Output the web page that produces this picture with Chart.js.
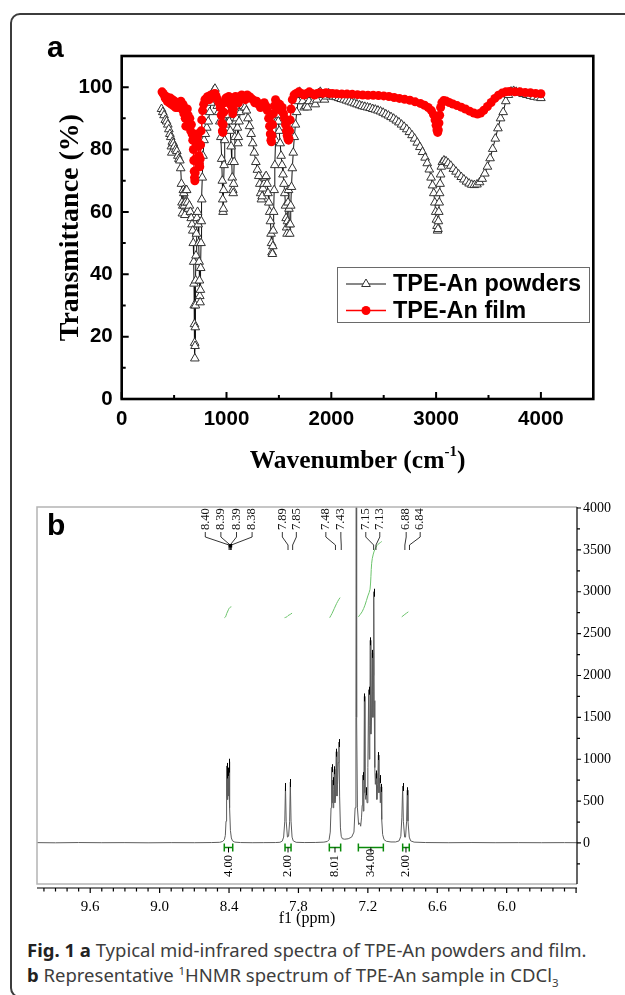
<!DOCTYPE html>
<html>
<head>
<meta charset="utf-8">
<script src="https://cdn.jsdelivr.net/npm/chart.js@4.4.1/dist/chart.umd.min.js"></script>
<style>
  html, body { margin: 0; padding: 0; background: #fff; }
  body { position: relative; width: 625px; height: 995px; overflow: hidden; }
  #frame { position: absolute; left: 10px; top: 13px; width: 690px; height: 985px; border: 2px solid #3c3c3c; border-radius: 10px; box-sizing: border-box; }
  canvas { position: absolute; left: 0; }
  #ir { top: 0; }
  #nmr { top: 490px; }
  #caption { position: absolute; left: 27px; top: 937px; font-family: "Noto Sans", sans-serif; font-size: 18.5px; line-height: 25px; color: #3d3d3d; white-space: nowrap; }
  #caption b { color: #222; }
  #caption sup, #caption sub { font-size: 0.62em; line-height: 0; }
</style>
</head>
<body>
<div id="frame"></div>
<canvas id="ir" width="625" height="480"></canvas>
<canvas id="nmr" width="625" height="440"></canvas>
<div id="caption"><b>Fig. 1</b> <b>a</b> Typical mid-infrared spectra of TPE-An powders and film.<br><b>b</b> Representative <sup>1</sup>HNMR spectrum of TPE-An sample in CDCl<sub>3</sub></div>
<script>
// ---- panel a: IR spectra ----
const irXTicks = [0, 1000, 2000, 3000, 4000];
const irYTicks = [0, 20, 40, 60, 80, 100];

const powderWn = [
  380, 392, 404, 416, 428, 440, 450, 460, 468, 474,
  478, 483, 492, 503, 515, 526, 536, 546, 555, 563,
  570, 575, 579, 583, 588, 593, 598, 602, 607, 613,
  620, 628, 637, 646, 655, 663, 671, 678, 683, 687,
  690, 692, 694, 696, 698, 700, 702, 704, 706, 709,
  713, 718, 724, 730, 735, 739, 742, 745, 748, 751,
  754, 757, 760, 764, 769, 776, 786, 798, 812, 826,
  840, 853, 866, 879, 890, 900, 912, 924, 936, 946,
  954, 960, 964, 967, 970, 973, 977, 983, 991, 1002,
  1014, 1026, 1036, 1044, 1050, 1055, 1060, 1064, 1068, 1073,
  1080, 1088, 1097, 1104, 1109, 1113, 1120, 1132, 1146, 1160,
  1175, 1190, 1205, 1220, 1235, 1250, 1265, 1280, 1295, 1308,
  1318, 1326, 1333, 1340, 1348, 1358, 1368, 1378, 1387, 1396,
  1404, 1412, 1419, 1425, 1430, 1434, 1438, 1442, 1446, 1450,
  1455, 1461, 1468, 1476, 1485, 1494, 1503, 1512, 1521, 1530,
  1539, 1548, 1556, 1563, 1569, 1574, 1578, 1582, 1587, 1592,
  1596, 1600, 1604, 1608, 1613, 1620, 1628, 1637, 1647, 1658,
  1670, 1683, 1697, 1712, 1727, 1742, 1757, 1772, 1787, 1802,
  1817, 1832, 1847, 1862, 1877, 1895, 1915, 1935, 1955, 1975,
  1995, 2020, 2045, 2070, 2095, 2120, 2145, 2170, 2195, 2220,
  2245, 2270, 2295, 2320, 2345, 2370, 2395, 2420, 2445, 2470,
  2495, 2520, 2545, 2570, 2595, 2620, 2645, 2670, 2695, 2720,
  2745, 2770, 2795, 2820, 2845, 2870, 2895, 2915, 2935, 2952,
  2966, 2978, 2988, 2996, 3003, 3009, 3014, 3018, 3022, 3026,
  3030, 3034, 3038, 3043, 3050, 3060, 3075, 3095, 3115, 3140,
  3165, 3190, 3215, 3240, 3265, 3290, 3315, 3340, 3365, 3390,
  3415, 3440, 3465, 3490, 3515, 3540, 3565, 3590, 3615, 3640,
  3665, 3690, 3715, 3740, 3765, 3795, 3830, 3865, 3900, 3935,
  3970, 4000
];
const powderT = [
  93, 92, 91, 89.5, 89, 88, 86.5, 85, 84, 81,
  79, 82.5, 82, 81, 80, 79.5, 78, 77, 76.5, 74,
  69, 63, 59.5, 62, 67, 66, 62, 59, 63, 67,
  67, 63, 61, 62, 60, 58, 56, 54, 50, 44,
  37, 30, 24, 18, 13, 17, 23, 30, 38, 46,
  53, 58, 60, 56, 50, 44, 38, 33, 31, 35,
  42, 50, 57, 64, 71, 78, 83, 85, 87, 89,
  92, 95, 97.5, 99, 99.5, 97, 94, 92, 89, 84,
  77, 70, 64, 60, 61, 67, 75, 83, 88, 91,
  91, 89, 86, 81, 76, 71, 67, 66, 69, 76,
  84, 89, 90, 87, 82, 84, 89, 92, 93.5, 94,
  93.5, 92.5, 90, 87.5, 85, 82, 79, 76, 73.5, 71.5,
  69, 66, 64, 65, 67.5, 69, 71, 71.5, 69, 66,
  63, 60, 57, 53, 50, 47, 46.5, 49, 54, 60,
  67, 75, 83, 89, 91, 89, 86, 82, 78, 75,
  72, 69, 66, 62, 58, 55, 53, 57, 63, 67,
  61, 56, 53, 56, 62, 68, 74, 79, 84, 88,
  92, 95.5, 98.5, 97.5, 95.5, 93.5, 94, 93.5, 95.5, 98,
  97.5, 95.5, 94.5, 96, 98, 98.5, 97.5, 96, 97, 98,
  97.5, 97, 96.8, 96.5, 96.2, 96, 95.7, 95.4, 95.1, 94.8,
  94.5, 94.2, 93.9, 93.7, 93.5, 93.3, 93, 92.8, 92.5, 92.2,
  91.8, 91.3, 90.9, 90.4, 89.9, 89.3, 88.7, 88, 87.3, 86.5,
  85.6, 84.6, 83.5, 82.2, 80.8, 79.2, 77.4, 75.6, 73.6, 71,
  68.5, 66, 63, 60, 57.5, 55.5, 54, 54.5, 57, 60,
  63, 66, 69, 72, 74.5, 76, 76.5, 76.2, 75.6, 74.8,
  73.8, 72.9, 72, 71.2, 70.4, 69.7, 69.1, 68.7, 68.6, 68.8,
  69.5, 70.6, 72.3, 74.5, 77.2, 80.2, 83.5, 86.8, 90, 92,
  95.5, 97.5, 98.6, 98.8, 98.5, 98.2, 97.8, 97.5, 97.2, 96.9,
  96.7, 96.5
];

const filmWn = [
  385, 395, 405, 415, 425, 435, 445, 455, 465, 475,
  485, 495, 505, 515, 525, 535, 545, 555, 565, 575,
  585, 593, 600, 606, 612, 618, 626, 634, 642, 650,
  658, 665, 672, 678, 684, 688, 692, 695, 698, 701,
  704, 708, 713, 719, 726, 732, 737, 741, 745, 749,
  753, 758, 764, 772, 782, 794, 808, 822, 836, 850,
  864, 878, 890, 902, 915, 928, 940, 950, 956, 961,
  965, 969, 974, 982, 994, 1008, 1022, 1036, 1046, 1054,
  1060, 1066, 1074, 1086, 1100, 1114, 1128, 1145, 1162, 1180,
  1198, 1216, 1234, 1252, 1270, 1288, 1306, 1324, 1342, 1360,
  1376, 1390, 1402, 1411, 1418, 1424, 1429, 1434, 1440, 1447,
  1456, 1468, 1482, 1496, 1508, 1520, 1532, 1544, 1554, 1563,
  1571, 1579, 1586, 1592, 1597, 1602, 1608, 1616, 1628, 1645,
  1665, 1690, 1715, 1740, 1765, 1790, 1815, 1840, 1865, 1890,
  1920, 1950, 1980, 2010, 2050, 2100, 2150, 2200, 2250, 2300,
  2350, 2400, 2450, 2500, 2550, 2600, 2650, 2700, 2750, 2800,
  2850, 2890, 2925, 2955, 2975, 2990, 3000, 3008, 3015, 3021,
  3027, 3034, 3043, 3055, 3072, 3095, 3125, 3160, 3200, 3240,
  3280, 3320, 3360, 3395, 3425, 3455, 3490, 3525, 3560, 3595,
  3630, 3665, 3700, 3750, 3800, 3850, 3900, 3950, 4000
];
const filmT = [
  98.5, 98, 97.5, 96.5, 97, 95.5, 96.5, 95, 96.5, 94.5,
  96, 94, 95.5, 93.5, 95, 93.5, 95, 94, 95.5, 93,
  94.5, 91.5, 93, 90, 87.5, 90.5, 93, 91, 88, 90,
  86, 88, 85, 83, 80, 76.5, 73, 71, 70, 72.5,
  77, 82, 85, 83, 84.5, 81, 78, 75.5, 74.5, 77,
  81.5, 86, 89.5, 92.5, 94.5, 96, 96.5, 97, 96, 97.5,
  97, 97.8, 98, 97, 96, 95, 93.5, 91, 88.5, 86,
  85.5, 88, 92, 95, 96.5, 96, 97, 96, 94, 92.5,
  91.5, 93, 95.5, 97, 96.5, 95, 97, 97.5, 97, 96,
  97.5, 97, 96.5, 96, 95, 95.5, 94.5, 93.5, 94.5, 95,
  94, 92.5, 90, 87.5, 85, 83, 82.5, 84.5, 88, 91.5,
  94, 96, 95, 93, 94.5, 92.5, 93.5, 91.5, 90, 88,
  86, 84.5, 83.5, 83, 83.5, 86, 89.5, 93, 96, 97.5,
  98, 98.5, 98, 97.5, 98, 98.5, 98, 97.5, 98, 98.2,
  98, 98.2, 98, 98, 97.9, 97.8, 97.8, 97.7, 97.6, 97.5,
  97.4, 97.4, 97.3, 97.2, 97, 96.7, 96.4, 96.1, 95.8, 95.3,
  94.8, 94.2, 93.5, 92.5, 91.2, 89.5, 87.8, 86.3, 85.5, 86.3,
  88.5, 91, 93.5, 95, 95.7, 95.6, 95.1, 94.6, 94.1, 93.6,
  93, 92.3, 91.7, 91.4, 91.7, 92.6, 93.8, 95.1, 96.4, 97.4,
  98.1, 98.5, 98.6, 98.5, 98.5, 98.3, 98.2, 98, 97.9
];

// ---- panel b: 1H NMR ----
const nmrXTicks = [9.6, 9.0, 8.4, 7.8, 7.2, 6.6, 6.0];
const nmrYTicks = [0, 500, 1000, 1500, 2000, 2500, 3000, 3500, 4000];

const nmrPpm = [
  10.06, 9.9, 9.7, 9.5, 9.3, 9.1, 8.9, 8.7, 8.55, 8.48,
  8.455, 8.44, 8.432, 8.426, 8.422, 8.42, 8.417, 8.414, 8.411, 8.408,
  8.405, 8.402, 8.399, 8.397, 8.393, 8.388, 8.38, 8.37, 8.35, 8.3,
  8.2, 8.1, 8.0, 7.96, 7.94, 7.928, 7.918, 7.912, 7.906, 7.895,
  7.885, 7.876, 7.87, 7.864, 7.855, 7.845, 7.82, 7.75, 7.65, 7.58,
  7.55, 7.535, 7.525, 7.518, 7.513, 7.508, 7.504, 7.5, 7.495, 7.49,
  7.485, 7.48, 7.473, 7.467, 7.462, 7.456, 7.45, 7.444, 7.437, 7.43,
  7.42, 7.4, 7.37, 7.34, 7.32, 7.31, 7.303, 7.3, 7.297, 7.29,
  7.28, 7.27, 7.262, 7.255, 7.249, 7.244, 7.239, 7.234, 7.23, 7.225,
  7.218, 7.213, 7.207, 7.2, 7.193, 7.188, 7.183, 7.179, 7.174, 7.168,
  7.161, 7.156, 7.152, 7.149, 7.145, 7.14, 7.135, 7.129, 7.122, 7.115,
  7.109, 7.104, 7.097, 7.092, 7.086, 7.08, 7.072, 7.06, 7.04, 7.0,
  6.96, 6.93, 6.915, 6.906, 6.899, 6.893, 6.882, 6.874, 6.865, 6.859,
  6.853, 6.842, 6.83, 6.8, 6.7, 6.5, 6.3, 6.1, 5.9, 5.7,
  5.5, 5.39
];
const nmrInt = [
  4, 2, 5, 3, 4, 2, 4, 3, 5, 8,
  18, 40, 90, 260, 700, 920, 560, 830, 520, 860,
  560, 900, 600, 970, 420, 150, 60, 25, 10, 5,
  3, 4, 5, 8, 22, 70, 260, 680, 260, 70,
  80, 260, 728, 260, 70, 25, 8, 5, 6, 10,
  18, 40, 130, 420, 905, 480, 750, 420, 640, 880,
  480, 520, 1090, 560, 700, 960, 1205, 560, 180, 80,
  50, 45, 50, 70, 130, 420, 1500, 5200, 1500, 420,
  220, 240, 200, 300, 450, 810, 380, 700, 1750, 600,
  520, 630, 480, 900, 1830, 1000, 1400, 2420, 1300, 1500,
  2270, 1500, 2000, 3000, 1700, 900, 700, 830, 520, 700,
  1050, 600, 775, 480, 670, 280, 100, 40, 20, 12,
  12, 25, 80, 300, 680, 260, 70, 70, 260, 630,
  260, 70, 25, 10, 5, 3, 5, 3, 4, 3,
  4, 3
];

// integral curves (green), one list per multiplet
const integralCurvePpm = [
  [8.44, 8.43, 8.42, 8.41, 8.40, 8.39, 8.38],
  [7.92, 7.90, 7.89, 7.87, 7.855],
  [7.53, 7.51, 7.49, 7.47, 7.45, 7.44],
  [7.282, 7.25, 7.225, 7.2, 7.181, 7.167, 7.153, 7.123, 7.08],
  [6.907, 6.88, 6.85]
];
const integralCurveVal = [
  [2690, 2700, 2740, 2770, 2800, 2815, 2820],
  [2690, 2700, 2715, 2730, 2745],
  [2690, 2740, 2800, 2860, 2910, 2930],
  [2700, 2760, 2840, 2950, 3030, 3340, 3450, 3550, 3600],
  [2700, 2730, 2760]
];
const integralFrom = [8.441, 7.916, 7.533, 7.282, 6.899];
const integralTo = [8.368, 7.864, 7.435, 7.066, 6.842];
const integralLabels = ['4.00', '2.00', '8.01', '34.00', '2.00'];

const peakLabels = ['8.40', '8.39', '8.39', '8.38', '7.89', '7.85', '7.48', '7.43', '7.15', '7.13', '6.88', '6.84'];
const peakGroupSizes = [4, 2, 2, 2, 2];

const toXY = (xs, ys) => xs.map((v, i) => ({ x: v, y: ys[i] }));

// ---------- panel a ----------
const IR_BOTTOM = 399;
const SERIF = '"Liberation Serif", "Times New Roman", serif';
const SANS = '"Liberation Sans", Arial, sans-serif';

function trianglePath(ctx, cx, cy, r) {
  const h = r * 1.5;
  const half = r * Math.sqrt(3) / 2;
  ctx.beginPath();
  ctx.moveTo(cx, cy - r);
  ctx.lineTo(cx + half, cy - r + h);
  ctx.lineTo(cx - half, cy - r + h);
  ctx.closePath();
}

const irDecor = {
  id: 'irDecor',
  afterDraw(chart) {
    const { ctx, chartArea: a, scales: { x, y } } = chart;
    ctx.save();
    ctx.strokeStyle = '#000';
    ctx.lineWidth = 2;
    ctx.beginPath();
    irXTicks.forEach(v => {
      const px = x.getPixelForValue(v);
      ctx.moveTo(px, a.bottom); ctx.lineTo(px, a.bottom - 7);
      const pm = x.getPixelForValue(v + 500);
      if (pm < a.right - 2) { ctx.moveTo(pm, a.bottom); ctx.lineTo(pm, a.bottom - 4); }
    });
    irYTicks.forEach(v => {
      const py = y.getPixelForValue(v);
      ctx.moveTo(a.left, py); ctx.lineTo(a.left + 7, py);
      const pm = y.getPixelForValue(v + 10);
      if (pm > a.top + 2) { ctx.moveTo(a.left, pm); ctx.lineTo(a.left + 4, pm); }
    });
    ctx.stroke();
    ctx.lineWidth = 2.6;
    ctx.strokeRect(a.left, a.top, a.right - a.left, a.bottom - a.top);

    // legend
    const ds = chart.data.datasets;
    ctx.lineWidth = 1;
    ctx.strokeStyle = '#6a6a6a';
    ctx.strokeRect(337.5, 267.5, 252, 55);
    const rows = [284, 310.5];
    rows.forEach((ry, i) => {
      const d = ds[i];
      ctx.strokeStyle = d.borderColor;
      ctx.lineWidth = d.borderWidth;
      ctx.beginPath(); ctx.moveTo(346, ry); ctx.lineTo(386, ry); ctx.stroke();
      if (d.pointStyle === 'triangle') {
        trianglePath(ctx, 366, ry, d.pointRadius);
        ctx.fillStyle = d.pointBackgroundColor; ctx.fill();
        ctx.strokeStyle = d.pointBorderColor; ctx.lineWidth = 1; ctx.stroke();
      } else {
        ctx.beginPath(); ctx.arc(366, ry, d.pointRadius, 0, Math.PI * 2);
        ctx.fillStyle = d.pointBackgroundColor; ctx.fill();
      }
      ctx.fillStyle = '#000';
      ctx.font = 'bold 23.5px ' + SANS;
      ctx.textAlign = 'left';
      ctx.textBaseline = 'middle';
      ctx.fillText(d.label, 393, ry + 1);
    });

    // axis titles
    ctx.fillStyle = '#000';
    ctx.font = 'bold 28px ' + SERIF;
    ctx.textAlign = 'center';
    ctx.textBaseline = 'middle';
    ctx.save();
    ctx.translate(71, (a.top + a.bottom) / 2);
    ctx.rotate(-Math.PI / 2);
    ctx.fillText('Transmittance (%)', 0, 0);
    ctx.restore();

    const main = 'Wavenumber (cm', sup = '-1', tail = ')';
    ctx.font = 'bold 25.5px ' + SERIF;
    const w1 = ctx.measureText(main).width, w3 = ctx.measureText(tail).width;
    ctx.font = 'bold 15px ' + SERIF;
    const w2 = ctx.measureText(sup).width;
    let tx = (a.left + a.right) / 2 - (w1 + w2 + w3) / 2;
    const ty = 461;
    ctx.textAlign = 'left';
    ctx.font = 'bold 25.5px ' + SERIF;
    ctx.fillText(main, tx, ty);
    ctx.font = 'bold 15px ' + SERIF;
    ctx.fillText(sup, tx + w1, ty - 9);
    ctx.font = 'bold 25.5px ' + SERIF;
    ctx.fillText(tail, tx + w1 + w2, ty);

    ctx.font = 'bold 30px ' + SANS;
    ctx.textBaseline = 'alphabetic';
    ctx.fillText('a', 47, 57);
    ctx.restore();
  }
};

new Chart(document.getElementById('ir'), {
  type: 'line',
  data: {
    datasets: [
      {
        label: 'TPE-An powders',
        data: toXY(powderWn, powderT),
        borderColor: '#111',
        borderWidth: 1,
        pointStyle: 'triangle',
        pointRadius: 5,
        pointBackgroundColor: '#ffffff',
        pointBorderColor: '#333333',
        pointBorderWidth: 1,
        order: 1
      },
      {
        label: 'TPE-An film',
        data: toXY(filmWn, filmT),
        borderColor: '#ff0000',
        borderWidth: 1.5,
        pointStyle: 'circle',
        pointRadius: 4.5,
        pointBackgroundColor: '#ff0000',
        pointBorderColor: '#ff0000',
        pointBorderWidth: 0,
        order: 0
      }
    ]
  },
  options: {
    responsive: false,
    animation: false,
    devicePixelRatio: 1,
    events: [],
    layout: { padding: { top: 56, right: 31.7, left: 0, bottom: 0 } },
    plugins: { legend: { display: false }, tooltip: { enabled: false } },
    scales: {
      x: {
        type: 'linear',
        min: 0,
        max: 4500,
        afterBuildTicks: s => { s.ticks = irXTicks.map(v => ({ value: v })); },
        afterFit: s => { s.height = 480 - IR_BOTTOM; },
        grid: { display: false, drawTicks: false },
        border: { display: false },
        ticks: { padding: 8, color: '#000', font: { family: SANS, size: 20.5, weight: 'bold' }, maxRotation: 0, autoSkip: false, callback: v => String(v) }
      },
      y: {
        min: 0,
        max: 110,
        afterBuildTicks: s => { s.ticks = irYTicks.map(v => ({ value: v })); },
        afterFit: s => { s.width = 121.7; },
        grid: { display: false, drawTicks: false },
        border: { display: false },
        ticks: { padding: 9, color: '#000', font: { family: SANS, size: 20.5, weight: 'bold' }, callback: v => String(v) }
      }
    }
  },
  plugins: [irDecor]
});

// ---------- panel b ----------
const NMR_TOP_OFFSET = 490;

const nmrDecor = {
  id: 'nmrDecor',
  afterDraw(chart) {
    const { ctx, chartArea: a, scales: { x, y } } = chart;
    ctx.save();
    // peak-pick marks on tall peak tops
    ctx.strokeStyle = '#000';
    ctx.lineWidth = 1;
    ctx.beginPath();
    for (let i = 1; i < nmrInt.length - 1; i++) {
      if (nmrInt[i] > 600 && nmrInt[i] < 4000 && nmrInt[i] > nmrInt[i - 1] && nmrInt[i] > nmrInt[i + 1]) {
        const px = Math.round(x.getPixelForValue(nmrPpm[i])) + 0.5;
        const py = y.getPixelForValue(nmrInt[i]);
        ctx.moveTo(px, py - 3); ctx.lineTo(px, py + 5);
      }
    }
    ctx.stroke();

    // gray frame
    ctx.strokeStyle = '#b4b4b4';
    ctx.lineWidth = 1.5;
    ctx.beginPath();
    ctx.moveTo(a.right, a.top); ctx.lineTo(a.left, a.top);
    ctx.lineTo(a.left, a.bottom); ctx.lineTo(a.right, a.bottom);
    ctx.stroke();

    // right axis
    ctx.strokeStyle = '#000';
    ctx.lineWidth = 1.2;
    ctx.beginPath();
    ctx.moveTo(a.right, a.top); ctx.lineTo(a.right, a.bottom);
    nmrYTicks.forEach(v => {
      const py = y.getPixelForValue(v);
      ctx.moveTo(a.right, py); ctx.lineTo(a.right + 4, py);
      const pm = y.getPixelForValue(v - 250);
      if (pm < a.bottom) { ctx.moveTo(a.right, pm); ctx.lineTo(a.right + 3, pm); }
    });
    // bottom ppm axis
    const ay = a.bottom + 4;
    ctx.moveTo(a.left, ay); ctx.lineTo(a.right, ay);
    for (let k = 54; k <= 100; k++) {
      const px = x.getPixelForValue(k / 10);
      if (px < a.left || px > a.right) continue;
      ctx.moveTo(px, ay); ctx.lineTo(px, ay + (k % 6 === 0 ? 5 : 3.5));
    }
    ctx.stroke();

    // f1 (ppm)
    ctx.fillStyle = '#000';
    ctx.font = '16px ' + SERIF;
    ctx.textAlign = 'center';
    ctx.textBaseline = 'middle';
    ctx.fillText('f1 (ppm)', (a.left + a.right) / 2, 919 - NMR_TOP_OFFSET);

    // panel letter
    ctx.font = 'bold 30px ' + SANS;
    ctx.textAlign = 'left';
    ctx.textBaseline = 'alphabetic';
    ctx.fillText('b', 47, 535 - NMR_TOP_OFFSET);

    // integral bars and values
    const base = y.getPixelForValue(0);
    integralFrom.forEach((f, i) => {
      const x1 = x.getPixelForValue(f), x2 = x.getPixelForValue(integralTo[i]);
      const by = base + 4.5, mid = (x1 + x2) / 2;
      ctx.strokeStyle = '#0a8a0a';
      ctx.lineWidth = 1.5;
      ctx.beginPath();
      ctx.moveTo(x1, by); ctx.lineTo(x2, by);
      ctx.moveTo(x1, by - 4); ctx.lineTo(x1, by + 4);
      ctx.moveTo(x2, by - 4); ctx.lineTo(x2, by + 4);
      ctx.stroke();
      ctx.strokeStyle = '#000';
      ctx.lineWidth = 1;
      ctx.beginPath(); ctx.moveTo(mid, by); ctx.lineTo(mid, by + 5); ctx.stroke();
      ctx.save();
      ctx.translate(mid, base + 34);
      ctx.rotate(-Math.PI / 2);
      ctx.fillStyle = '#000';
      ctx.font = '12.5px ' + SERIF;
      ctx.textAlign = 'left';
      ctx.textBaseline = 'middle';
      ctx.fillText(integralLabels[i], 0, 0);
      ctx.restore();
    });

    // peak labels with connectors
    const shifts = [-1.5, -1, -5, -2, 6];
    const spacing = [15.6, 14, 15, 14, 14];
    let idx = 0;
    ctx.strokeStyle = '#000';
    ctx.lineWidth = 0.8;
    peakGroupSizes.forEach((n, g) => {
      const vals = peakLabels.slice(idx, idx + n).map(Number);
      const mean = vals.reduce((s, v) => s + v, 0) / n;
      const cx = x.getPixelForValue(mean) + shifts[g];
      vals.forEach((v, j) => {
        const lx = cx + (j - (n - 1) / 2) * spacing[g];
        const px = x.getPixelForValue(v);
        ctx.save();
        ctx.translate(lx, 530 - NMR_TOP_OFFSET);
        ctx.rotate(-Math.PI / 2);
        ctx.fillStyle = '#111';
        ctx.font = '12.5px ' + SERIF;
        ctx.textAlign = 'left';
        ctx.textBaseline = 'middle';
        ctx.fillText(peakLabels[idx + j], 0, 0);
        ctx.restore();
        ctx.beginPath();
        ctx.moveTo(lx, 532 - NMR_TOP_OFFSET);
        ctx.lineTo(lx, 537 - NMR_TOP_OFFSET);
        ctx.lineTo(px, 545 - NMR_TOP_OFFSET);
        ctx.lineTo(px, 550 - NMR_TOP_OFFSET);
        ctx.stroke();
      });
      if (n === 4) {
        ctx.fillStyle = '#000';
        ctx.fillRect(x.getPixelForValue(mean) - 1.5, 544 - NMR_TOP_OFFSET, 3.5, 3.5);
      }
      idx += n;
    });
    ctx.restore();
  }
};

const nmrDatasets = [
  {
    data: toXY(nmrPpm, nmrInt),
    borderColor: '#5c5c5c',
    borderWidth: 1,
    pointRadius: 0,
    tension: 0,
    order: 1
  }
].concat(integralCurvePpm.map((ppm, i) => ({
  data: toXY(ppm, integralCurveVal[i]),
  borderColor: '#6cc46c',
  borderWidth: 1,
  pointRadius: 0,
  tension: 0.3,
  order: 0
})));

new Chart(document.getElementById('nmr'), {
  type: 'line',
  data: { datasets: nmrDatasets },
  options: {
    responsive: false,
    animation: false,
    devicePixelRatio: 1,
    events: [],
    layout: { padding: { top: 17, left: 37, right: 0, bottom: 0 } },
    plugins: { legend: { display: false }, tooltip: { enabled: false } },
    scales: {
      x: {
        type: 'linear',
        reverse: true,
        min: 5.392,
        max: 10.06,
        afterBuildTicks: s => { s.ticks = nmrXTicks.map(v => ({ value: v })); },
        afterFit: s => { s.height = 440 - 394; },
        grid: { display: false, drawTicks: false },
        border: { display: false },
        ticks: { padding: 14, color: '#000', font: { family: SERIF, size: 15 }, maxRotation: 0, autoSkip: false, callback: v => Number(v).toFixed(1) }
      },
      y: {
        position: 'right',
        min: -490,
        max: 4012,
        afterBuildTicks: s => { s.ticks = nmrYTicks.map(v => ({ value: v })); },
        afterFit: s => { s.width = 48; },
        grid: { display: false, drawTicks: false },
        border: { display: false },
        ticks: { padding: 6, color: '#000', font: { family: SERIF, size: 14 }, callback: v => String(v) }
      }
    }
  },
  plugins: [nmrDecor]
});
</script>
</body>
</html>
